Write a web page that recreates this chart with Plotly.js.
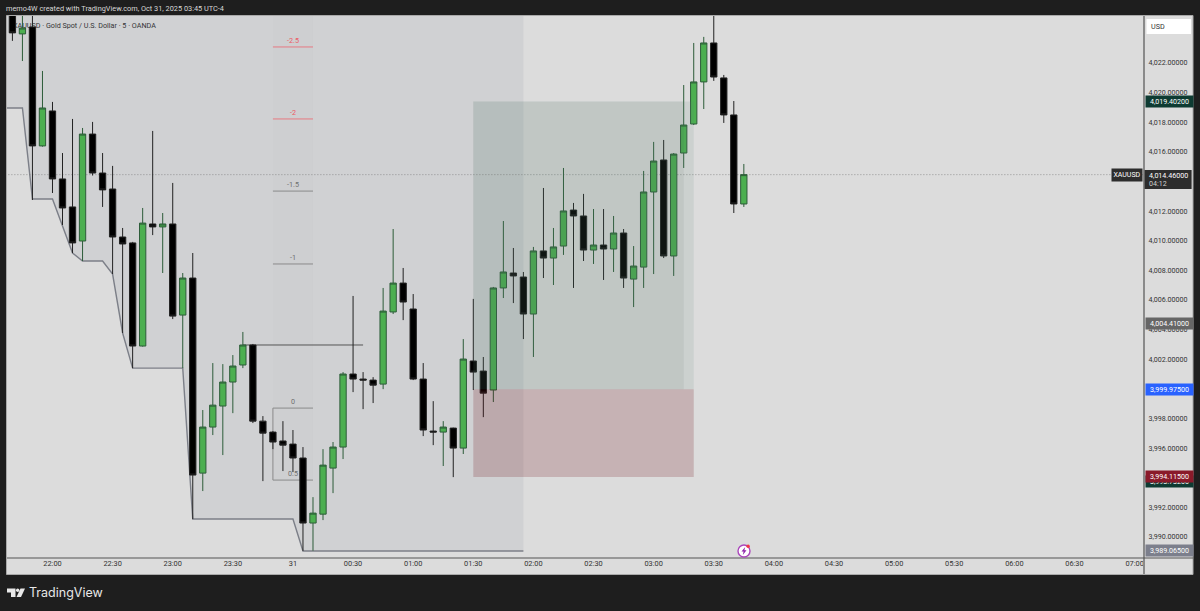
<!DOCTYPE html>
<html><head><meta charset="utf-8">
<script src="https://cdn.plot.ly/plotly-3.0.1.min.js"></script>
<style>html,body{margin:0;padding:0;background:#1e1e1e;overflow:hidden}#c{width:1200px;height:611px}</style>
</head><body><div id="c"></div>
<script>
// minutes after 22:00 on Oct 30
const minutes=[-20,-15,-10,-5,0,5,10,15,20,25,30,35,40,45,50,55,60,65,70,75,80,85,90,95,100,105,110,115,120,125,130,135,140,145,150,155,160,165,170,175,180,185,190,195,200,205,210,215,220,225,230,235,240,245,250,255,260,265,270,275,280,285,290,295,300,305,310,315,320,325,330,335,340,345];
const opens=[4025.58,4023.96,4024.43,4016.40,4018.76,4014.17,4012.28,4009.98,4017.20,4014.57,4013.49,4010.25,4009.85,4002.89,4011.13,4010.93,4011.13,4004.98,4007.48,3994.31,3997.42,3998.84,4000.46,4001.61,4002.96,3997.82,3997.08,3996.48,3996.27,3995.33,3990.94,3991.54,3994.65,3996.07,4001.00,4000.66,4000.59,4000.32,4005.19,4007.14,4005.39,4000.66,3997.15,3997.08,3997.35,3996.00,4001.88,4001.20,3999.92,4006.81,4007.82,4007.55,4005.05,4009.31,4008.83,4009.64,4012.07,4011.67,4009.37,4009.71,4009.44,4010.52,4007.41,4008.22,4013.29,4015.45,4008.97,4015.92,4017.88,4020.72,4023.35,4020.99,4018.49,4012.48];
const highs=[4026.00,4025.60,4026.00,4021.46,4019.37,4015.92,4018.22,4017.61,4018.02,4015.92,4015.05,4010.86,4009.92,4012.21,4017.41,4011.87,4013.90,4007.82,4009.17,3998.57,4001.74,4001.67,4002.28,4003.84,4003.03,3998.16,3997.15,3997.82,3997.22,3996.07,3992.69,3995.93,3996.41,4001.13,4006.27,4001.13,4000.79,4006.81,4010.79,4008.16,4006.40,4001.74,3999.17,3997.82,3997.38,4003.36,4006.07,4002.15,4006.88,4011.33,4009.51,4007.89,4009.58,4013.56,4010.86,4014.91,4012.55,4013.16,4012.14,4012.14,4011.67,4010.79,4009.64,4014.71,4016.67,4016.80,4015.92,4020.51,4023.35,4023.76,4026.00,4021.19,4019.43,4015.18];
const lows=[4023.49,4022.13,4012.75,4016.35,4013.22,4011.06,4009.17,4008.63,4014.40,4012.28,4007.75,4003.77,4001.40,4002.85,4010.38,4007.82,4004.71,4001.40,3991.21,3993.10,3996.88,3995.53,3998.36,4001.40,3997.69,3993.77,3995.93,3994.45,3994.38,3989.06,3989.07,3991.14,3992.96,3995.26,3999.78,3998.63,3999.04,3999.98,4005.05,4004.64,4000.59,3996.81,3996.20,3994.79,3994.04,3995.60,3999.92,3998.09,3999.11,4006.13,4005.79,4003.36,4002.15,4007.48,4007.01,4009.04,4006.81,4008.63,4008.43,4007.35,4007.89,4006.81,4005.52,4006.81,4007.75,4008.83,4007.62,4014.91,4017.81,4018.89,4020.79,4017.95,4011.87,4012.28];
const closes=[4024.03,4024.36,4016.40,4018.96,4014.17,4012.21,4009.85,4017.20,4014.57,4013.43,4010.25,4009.78,4002.89,4011.19,4010.93,4011.13,4004.91,4007.48,3994.18,3997.42,3998.90,4000.46,4001.54,4002.96,3997.82,3997.01,3996.41,3996.20,3995.33,3990.94,3991.61,3994.85,3996.07,4001.00,4000.66,4000.59,4000.25,4005.25,4007.14,4005.86,4000.66,3997.22,3997.08,3997.42,3996.00,4002.01,4001.13,3999.71,4006.81,4007.89,4007.62,4005.05,4009.31,4008.83,4009.58,4012.01,4011.67,4009.37,4009.71,4009.44,4010.52,4007.48,4008.29,4013.29,4015.38,4008.97,4015.85,4017.81,4020.72,4023.35,4021.05,4018.49,4012.48,4014.46];

const lowLineX=[-25,-15,-10,0,10,15,25,30,35,40,65,70,120,125,235];
const lowLineY=[4018.96,4018.96,4012.82,4012.82,4009.17,4008.63,4008.63,4007.75,4003.77,4001.40,4001.40,3991.21,3991.21,3989.05,3989.05];

const fibLevels=[4023.08,4018.22,4013.35,4008.43,3998.70,3993.84];
const fibLabels=['-2.5','-2','-1.5','-1','0','0.5'];
const lastPrice=4014.46;

const xTickVals=[0,30,60,90,120,150,180,210,240,270,300,330,360,390,420,450,480,510,540];
const xTickText=['22:00','22:30','23:00','23:30','31','00:30','01:00','01:30','02:00','02:30','03:00','03:30','04:00','04:30','05:00','05:30','06:00','06:30','07:00'];
const yTickVals=[3990,3992,3996,3998,4002,4004,4006,4008,4010,4012,4016,4018,4020,4022];

const badgePrices=[4019.402,4004.41,3999.975,3993.732,3994.115,3989.065];
const badgeLabels=['4,019.40200','4,004.41000','3,999.97500','3,993.73200','3,994.11500','3,989.06500'];
const badgeColors=['#0e3b32','#666666','#2962ff','#0e3b32','#8a1a2a','#7c7f8c'];

const W=1200,H=611,L=7,R=1144,T=16,B=558;
const px=x=>(x-L)/(R-L), py=y=>(B-y)/(B-T);
const FONT='Roboto, "Liberation Sans", sans-serif';

const candle={type:'candlestick',x:minutes,open:opens,high:highs,low:lows,close:closes,
  increasing:{line:{color:'#2d5c39',width:1},fillcolor:'#4caf50'},
  decreasing:{line:{color:'#222222',width:1},fillcolor:'#000000'},
  whiskerwidth:0,hoverinfo:'skip',showlegend:false};

const shapes=[];
const pRect=(x0,y0,x1,y1,fill,line)=>({type:'rect',xref:'paper',yref:'paper',x0:px(x0),x1:px(x1),y0:py(y0),y1:py(y1),fillcolor:fill,line:line||{width:0},layer:'below'});
// axis bands
shapes.push(pRect(6.5,15.5,1193,574.5,'#dcdcdc',{color:'#a9a9a9',width:1}));
// symbol line sits under the candles
shapes.push({type:'rect',xref:'paper',yref:'paper',x0:px(10),x1:px(170),y0:py(31),y1:py(19),fillcolor:'rgba(0,0,0,0)',line:{width:0},layer:'below',
  label:{text:'XAUUSD · Gold Spot / U.S. Dollar · 5 · OANDA',font:{family:FONT,size:7.2,color:'#2b2b2b'},textposition:'middle left',padding:0}});
// dimmed area above the running low
let path='M -25 4030';
lowLineX.forEach((x,i)=>{path+=' L '+x+' '+lowLineY[i];});
path+=' L 235 4030 Z';
shapes.push({type:'path',xref:'x',yref:'y',path:path,fillcolor:'rgba(120,130,150,0.11)',line:{width:0},layer:'below'});
let lp='M '+lowLineX[0]+' '+lowLineY[0];
lowLineX.forEach((x,i)=>{if(i)lp+=' L '+x+' '+lowLineY[i];});
shapes.push({type:'path',xref:'x',yref:'y',path:lp,fillcolor:'rgba(0,0,0,0)',line:{color:'#7c7f88',width:1.4},layer:'below'});
// fib block
shapes.push({type:'rect',xref:'x',yref:'y',x0:110,x1:130,y0:fibLevels[5],y1:4030,fillcolor:'rgba(110,110,120,0.025)',line:{width:0},layer:'below'});
fibLevels.forEach((v,i)=>shapes.push({type:'line',xref:'x',yref:'y',x0:110,x1:130,y0:v,y1:v,line:{color:i<2?'rgba(236,100,110,0.8)':'#8a8a8a',width:1},layer:'below'}));
shapes.push({type:'line',xref:'x',yref:'y',x0:110,x1:110,y0:fibLevels[4],y1:fibLevels[5],line:{color:'#8a8a8a',width:1},layer:'below'});
shapes.push({type:'line',xref:'x',yref:'y',x0:95,x1:155,y0:4002.96,y1:4002.96,line:{color:'#555555',width:1},layer:'below'});
// last price
shapes.push({type:'line',xref:'x',yref:'y',x0:-25,x1:545,y0:lastPrice,y1:lastPrice,line:{color:'#777777',width:0.7,dash:'1px,2px'},layer:'below'});
// position tool
shapes.push({type:'rect',xref:'x',yref:'y',x0:210,x1:320,y0:3999.975,y1:4019.402,fillcolor:'rgba(87,128,112,0.12)',line:{width:0},layer:'above'});
shapes.push({type:'rect',xref:'x',yref:'y',x0:210,x1:315,y0:3999.975,y1:4019.402,fillcolor:'rgba(66,84,82,0.08)',line:{width:0},layer:'above'});
shapes.push({type:'rect',xref:'x',yref:'y',x0:210,x1:320,y0:3994.05,y1:3999.975,fillcolor:'rgba(110,10,20,0.2)',line:{width:0},layer:'above'});
// axis borders
shapes.push({type:'line',xref:'paper',yref:'paper',x0:px(1144),x1:px(1144),y0:py(16),y1:py(574),line:{color:'#8a8a8a',width:2},layer:'above'});
shapes.push({type:'line',xref:'paper',yref:'paper',x0:px(7),x1:px(1193),y0:py(558),y1:py(558),line:{color:'#555555',width:1},layer:'above'});
// USD box
shapes.push({type:'rect',xref:'paper',yref:'paper',x0:px(1146.5),x1:px(1191),y0:py(19),y1:py(34),fillcolor:'#ffffff',line:{width:0},layer:'above'});
// countdown box
shapes.push({type:'rect',xref:'paper',yref:'paper',x0:px(1144.6),x1:px(1191.6),y0:py(170),y1:py(189),fillcolor:'#2d2d2d',line:{width:0},layer:'above'});
// event icon
shapes.push({type:'circle',xref:'paper',yref:'paper',x0:px(738),x1:px(750),y0:py(545),y1:py(557),fillcolor:'#ffffff',line:{color:'#ab47bc',width:1.4},layer:'above'});
shapes.push({type:'path',xref:'paper',yref:'paper',path:`M ${px(745.2)} ${py(547)} L ${px(741.5)} ${py(551.6)} L ${px(743.6)} ${py(551.6)} L ${px(742.8)} ${py(555)} L ${px(746.5)} ${py(550.2)} L ${px(744.4)} ${py(550.2)} Z`,fillcolor:'#8e24aa',line:{width:0},layer:'above'});
shapes.push({type:'circle',xref:'paper',yref:'paper',x0:px(746.4),x1:px(749.8),y0:py(544.6),y1:py(548),fillcolor:'#f23645',line:{width:0},layer:'above'});
// TradingView logo mark
shapes.push({type:'path',xref:'paper',yref:'paper',path:`M ${px(7)} ${py(588.5)} L ${px(15.5)} ${py(588.5)} L ${px(15.5)} ${py(597)} L ${px(11)} ${py(597)} L ${px(11)} ${py(592.5)} L ${px(7)} ${py(592.5)} Z`,fillcolor:'#e8e8e8',line:{width:0},layer:'above'});
shapes.push({type:'path',xref:'paper',yref:'paper',path:`M ${px(20.5)} ${py(588.5)} L ${px(25)} ${py(588.5)} L ${px(21)} ${py(597)} L ${px(16.5)} ${py(597)} Z`,fillcolor:'#e8e8e8',line:{width:0},layer:'above'});
shapes.push({type:'circle',xref:'paper',yref:'paper',x0:px(16),x1:px(19.4),y0:py(588.5),y1:py(592),fillcolor:'#e8e8e8',line:{width:0},layer:'above'});

const annotations=[];
const txt=(text,x,y,o)=>Object.assign({text:text,xref:'paper',yref:'paper',x:px(x),y:py(y),xanchor:'left',yanchor:'middle',showarrow:false,borderpad:0,font:{family:FONT,size:7.6,color:'#333333'}},o||{});
annotations.push(txt('memo4W created with TradingView.com, Oct 31, 2025 03:45 UTC-4',5,8.5,{font:{family:FONT,size:7.35,color:'#d8d8d8'}}));
annotations.push(txt('TradingView',28,592.5,{font:{family:'Inter, '+FONT,size:12.5,color:'#e8e8e8'}}));
annotations.push(txt('USD',1150,27,{font:{family:FONT,size:7.2,color:'#333333'}}));
fibLabels.forEach((t,i)=>annotations.push({text:t,xref:'x',yref:'y',x:120,y:fibLevels[i],yshift:6.5,xanchor:'center',yanchor:'middle',showarrow:false,font:{family:FONT,size:7.2,color:i<2?'#ec5a64':'#6f6f6f'}}));
badgePrices.forEach((v,i)=>annotations.push({text:badgeLabels[i],xref:'paper',yref:'y',x:px(1144.6),y:v,xanchor:'left',yanchor:'middle',width:47,height:11,align:'center',showarrow:false,bgcolor:badgeColors[i],borderpad:0,font:{family:FONT,size:7.1,color:'#ffffff'}}));
annotations.push(txt('4,014.46000',1148,175,{font:{family:FONT,size:7.1,color:'#ffffff'}}));
annotations.push(txt('04:12',1148,183.5,{font:{family:FONT,size:7.1,color:'#d0d0d0'}}));
annotations.push({text:'XAUUSD',xref:'paper',yref:'y',x:px(1143),y:lastPrice,xanchor:'right',yanchor:'middle',width:30,height:11.5,align:'center',showarrow:false,bgcolor:'#2d2d2d',borderpad:0,font:{family:FONT,size:7,color:'#ffffff'}});

const layout={width:W,height:H,paper_bgcolor:'#1e1e1e',plot_bgcolor:'#dcdcdc',showlegend:false,hovermode:false,dragmode:false,
  margin:{l:L,r:W-R,t:T,b:H-B,pad:0},boxgap:0.1,
  xaxis:{type:'linear',range:[-22.7,544.7],tickmode:'array',tickvals:xTickVals,ticktext:xTickText,showgrid:false,zeroline:false,showline:false,ticks:'',tickfont:{family:FONT,size:7.4,color:'#333333'},rangeslider:{visible:false},automargin:false},
  yaxis:{side:'right',range:[3988.58,4025.17],tickmode:'array',tickvals:yTickVals,tickformat:',.5f',showgrid:false,zeroline:false,showline:false,ticks:'outside',ticklen:2,tickcolor:'rgba(0,0,0,0)',tickfont:{family:FONT,size:7.1,color:'#333333'},automargin:false},
  shapes:shapes,annotations:annotations};
Plotly.newPlot('c',[candle],layout,{displayModeBar:false,staticPlot:true});
</script></body></html>
